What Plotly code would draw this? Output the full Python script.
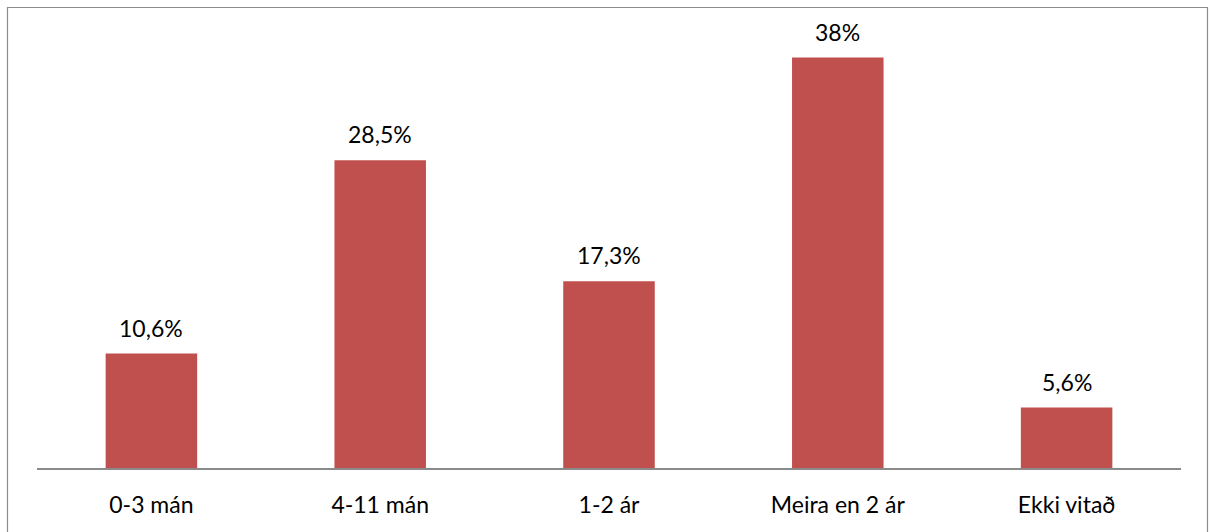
import plotly.graph_objects as go

categories = ["0-3 mán", "4-11 mán", "1-2 ár", "Meira en 2 ár", "Ekki vitað"]
values = [10.6, 28.5, 17.3, 38, 5.6]
labels = ["10,6%", "28,5%", "17,3%", "38%", "5,6%"]

W, H = 1210, 532
ml, mr, mt, mb = 37, 29, 36, 64
pw, ph = W - ml - mr, H - mt - mb
FONT = "Lato, Open Sans, sans-serif"

fig = go.Figure(go.Bar(
    x=categories, y=values,
    marker=dict(color="#C0504D", line=dict(width=0)),
    hoverinfo="x+y",
))

# value labels sitting above each bar
for cat, val, lab in zip(categories, values, labels):
    fig.add_annotation(x=cat, y=val, text=lab, showarrow=False,
                       yanchor="bottom", yshift=10,
                       font=dict(family=FONT, size=23, color="#000000"))

def px_x(v):
    return (v - ml) / pw

def px_y(v):
    return (H - mb - v) / ph

fig.update_layout(
    width=W, height=H,
    margin=dict(l=ml, r=mr, t=mt, b=mb),
    plot_bgcolor="white", paper_bgcolor="white",
    font=dict(family=FONT, size=23, color="#000000"),
    bargap=0.6,
    showlegend=False,
    xaxis=dict(showline=True, linecolor="#8a8a8a", linewidth=1.5, ticks="",
               showgrid=False, tickfont=dict(size=23), ticklabelstandoff=16),
    yaxis=dict(range=[0, 40], visible=False),
    shapes=[dict(type="rect", xref="paper", yref="paper",
                 x0=px_x(7.5), x1=px_x(1207.5), y0=px_y(545), y1=px_y(7.5),
                 line=dict(color="#8c8c8c", width=1.2), fillcolor="rgba(0,0,0,0)",
                 layer="below")],
)

fig.write_html("out.html")
